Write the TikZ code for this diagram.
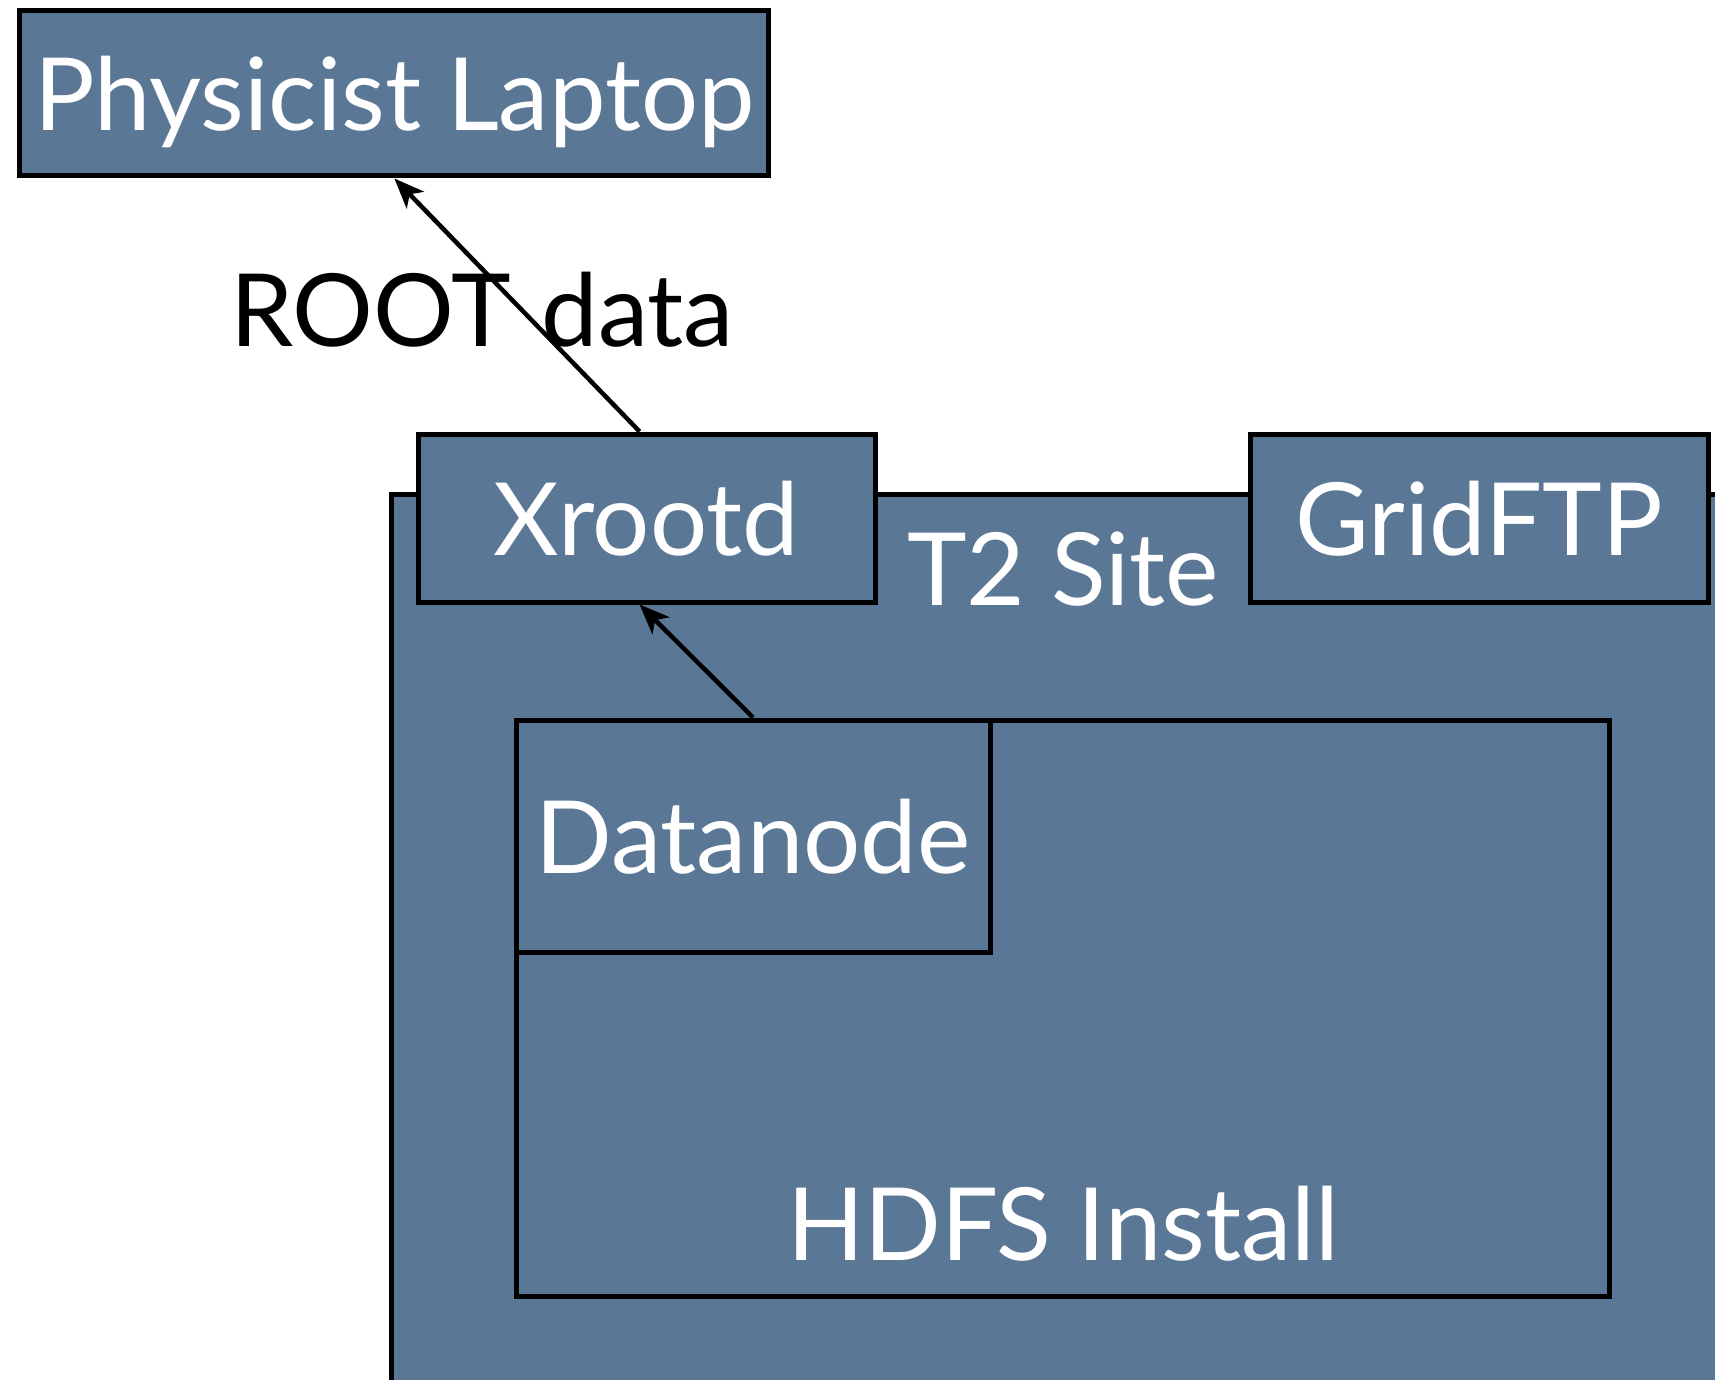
\documentclass[tikz,border=0pt]{standalone}
\usepackage{fontspec}
\setmainfont{Lato}
\usetikzlibrary{arrows.meta,calc}
\definecolor{boxblue}{HTML}{5B7796}
\tikzset{
  box/.style={draw=black, line width=5pt, fill=boxblue, inner sep=0pt, text=white,
    text depth=0pt, font=\fontsize{101}{101}\selectfont},
  lbl/.style={inner sep=0pt, anchor=base, font=\fontsize{101}{101}\selectfont},
  conn/.style={line width=4.5pt, -{Stealth[length=30pt,width=24pt,inset=8pt]}}
}
\begin{document}
\begin{tikzpicture}[x=1pt,y=-1pt]
\clip (0,0) rectangle (1715,1380);
\fill[white] (0,0) rectangle (1715,1380);
% T2 site container
\node[box, minimum width=1400pt, minimum height=950pt, anchor=center] (t2) at (1091.6,969) {};
\node[lbl, text=white] (t2lbl) at (1063,605) {T2 Site};
% service boxes
\node[box, minimum width=457pt, minimum height=168pt] (xr) at (646.5,518) {Xrootd};
\node[box, minimum width=458pt, minimum height=168pt] (gf) at (1479,518) {GridFTP};
% HDFS
\node[box, minimum width=1093pt, minimum height=576pt] (hdfs) at (1062.5,1008) {};
\node[lbl, text=white] (hdfslbl) at (1063,1260) {HDFS Install};
\node[box, minimum width=474pt, minimum height=232pt] (dn) at (753,836) {Datanode};
% laptop
\node[box, minimum width=749pt, minimum height=165pt] (lap) at (394.4,93.5) {Physicist Laptop};
% label
\node[lbl, text=black] (rd) at (482,346) {ROOT\hspace{0.3em}data};
% arrows
\draw[conn] ($(xr.north west)!0.485!(xr.north east)$) -- (lap.south);
\draw[conn] (dn.north) -- ($(xr.south west)!0.485!(xr.south east)$);
\end{tikzpicture}
\end{document}
